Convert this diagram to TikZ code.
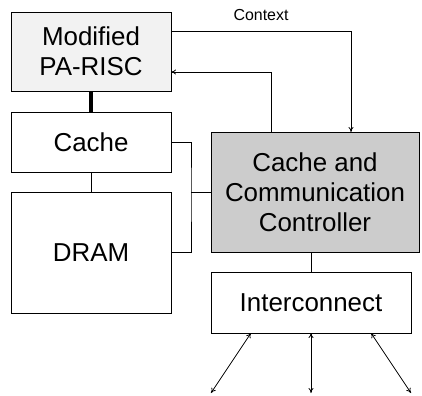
\documentclass[tikz,border=0pt]{standalone}
\usepackage{fontspec}
\setmainfont{Liberation Sans}
\usetikzlibrary{arrows.meta}

\begin{document}
\begin{tikzpicture}[x=1bp,y=-1bp,
    blk/.style={draw,line width=0.8bp,inner sep=0pt,outer sep=0pt,align=center,
                font=\fontsize{26}{30}\selectfont},
    wire/.style={line width=0.8bp},
    arr/.style={wire,-{To[length=5bp,width=5bp]}},
    darr/.style={wire,{To[length=5bp,width=5bp]}-{To[length=5bp,width=5bp]}}]
    \def\cpufill{black!5}
    \def\cccfill{black!20}
    \useasboundingbox (0,0) rectangle (422,396);
    % blocks
    \node[blk,fill=\cpufill,minimum width=160bp,minimum height=79bp] (cpu) at (91,51.5) {Modified\\PA-RISC};
    \node[blk,minimum width=160bp,minimum height=60bp] (cache) at (91,142) {Cache};
    \node[blk,minimum width=160bp,minimum height=121bp] (dram) at (91,252.5) {DRAM};
    \node[blk,fill=\cccfill,minimum width=208bp,minimum height=120bp] (ccc) at (315,192) {Cache and\\Communication\\Controller};
    \node[blk,minimum width=200bp,minimum height=61bp] (net) at (311,302.5) {Interconnect};
    \path[coordinate] (351,31) coordinate(ctx)
                      (271,72) coordinate(ret)
                      (191,192) coordinate(bus)
                      (211,393) coordinate(p1)
                      (311,393) coordinate(p2)
                      (411,393) coordinate(p3);
    % links
    \draw[line width=4bp] (cpu.south) -- (cache.north);
    \draw[wire] (cache.south) -- (dram.north);
    \draw[wire] (cache.east) -| (bus) |- (dram.east);
    \draw[wire] (bus) -- (ccc.west);
    \draw[arr] (cpu.east |- ctx) -| (ccc.north -| ctx);
    \draw[arr] (ccc.north -| ret) |- (cpu.east |- ret);
    \node[font=\fontsize{16}{18}\selectfont] (ctxlabel) at (261,15) {Context};
    \draw[wire] (net.north) -- (net.north |- ccc.south);
    \draw[darr] ([xshift=-60bp]net.south) -- (p1);
    \draw[darr] (net.south) -- (p2);
    \draw[darr] ([xshift=60bp]net.south) -- (p3);
\end{tikzpicture}
\end{document}
